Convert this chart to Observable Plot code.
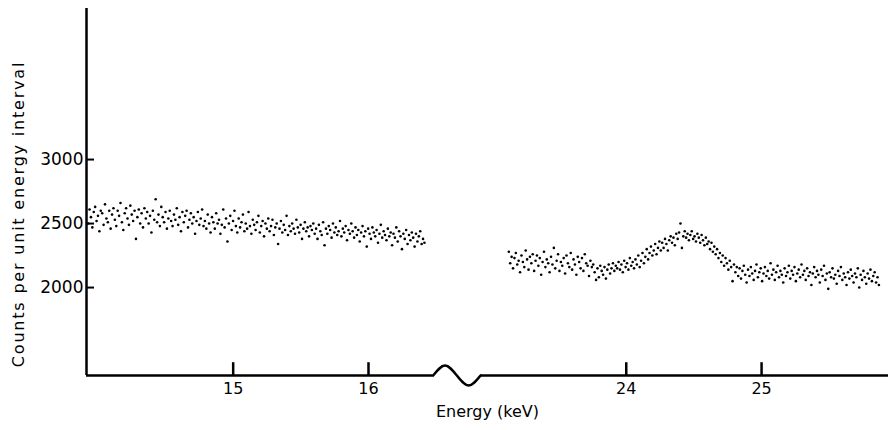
<!DOCTYPE html>
<html><head><meta charset="utf-8">
<script src="https://cdn.jsdelivr.net/npm/d3@7"></script>
<script src="https://cdn.jsdelivr.net/npm/@observablehq/plot@0.6"></script>
<style>body{margin:0;background:#fff} svg{display:block} .ylab text{letter-spacing:1.8px}</style>
</head><body><div id="chart"></div>
<script>
// Counts per channel, low-energy segment (≈13.93–16.41 keV)
const lowCounts = [
2500,2610,2550,2470,2590,2630,2520,2560,2440,2600,
2580,2490,2650,2540,2510,2600,2460,2570,2620,2530,
2480,2600,2560,2660,2510,2450,2580,2620,2540,2490,
2640,2570,2520,2600,2380,2550,2610,2500,2580,2470,
2620,2540,2590,2500,2560,2430,2600,2530,2690,2510,
2570,2480,2630,2550,2510,2590,2460,2540,2600,2520,
2480,2570,2530,2620,2490,2550,2440,2590,2510,2560,
2600,2470,2530,2580,2500,2550,2420,2520,2590,2490,
2540,2610,2480,2520,2460,2570,2500,2430,2550,2510,
2460,2580,2500,2530,2420,2490,2610,2470,2540,2360,
2500,2560,2450,2520,2600,2480,2430,2540,2470,2510,
2570,2440,2500,2460,2590,2480,2420,2530,2490,2450,
2510,2560,2430,2480,2520,2400,2500,2460,2540,2440,
2480,2530,2410,2470,2500,2340,2460,2520,2430,2490,
2450,2560,2410,2480,2440,2500,2460,2420,2530,2470,
2430,2490,2380,2460,2510,2440,2470,2400,2480,2450,
2500,2420,2460,2380,2490,2440,2410,2510,2330,2460,
2420,2480,2450,2390,2500,2430,2470,2410,2440,2520,
2400,2460,2430,2480,2370,2450,2420,2500,2440,2390,
2470,2410,2450,2360,2430,2480,2400,2440,2320,2460,
2420,2380,2470,2430,2400,2450,2350,2420,2490,2390,
2440,2410,2370,2460,2400,2430,2330,2420,2390,2470,
2360,2440,2400,2300,2420,2380,2450,2340,2410,2370,
2430,2390,2320,2420,2360,2400,2440,2340,2380,2350
];
// Counts per channel, high-energy segment (≈23.13–25.87 keV)
const highCounts = [
2280,2190,2240,2150,2230,2270,2180,2210,2120,2250,
2200,2160,2290,2220,2140,2240,2190,2260,2130,2210,
2250,2170,2230,2100,2200,2280,2160,2220,2190,2120,
2240,2180,2310,2150,2210,2260,2130,2200,2170,2230,
2110,2250,2190,2160,2270,2140,2220,2180,2100,2240,
2200,2150,2230,2130,2260,2190,2170,2090,2210,2160,
2180,2120,2060,2150,2080,2170,2130,2100,2160,2070,
2140,2180,2110,2150,2190,2130,2170,2150,2200,2140,
2180,2120,2210,2160,2190,2140,2230,2170,2200,2150,
2220,2180,2250,2160,2210,2270,2190,2240,2300,2220,
2270,2320,2250,2290,2340,2260,2310,2360,2290,2350,
2310,2380,2340,2290,2370,2400,2350,2390,2330,2420,
2380,2430,2500,2310,2400,2440,2390,2420,2370,2410,
2440,2380,2400,2360,2420,2390,2350,2410,2370,2330,
2390,2340,2360,2300,2350,2280,2320,2260,2300,2230,
2270,2200,2250,2170,2230,2190,2140,2210,2160,2050,
2180,2120,2160,2090,2150,2070,2130,2170,2100,2040,
2140,2090,2160,2110,2060,2130,2180,2080,2120,2150,
2050,2110,2160,2090,2130,2070,2190,2100,2140,2060,
2120,2170,2080,2130,2100,2040,2150,2090,2120,2170,
2070,2130,2100,2160,2050,2110,2140,2080,2180,2100,
2130,2060,2150,2090,2120,2020,2110,2160,2080,2130,
2100,2040,2140,2090,2170,2060,2110,1990,2120,2080,
2150,2070,2100,2030,2130,2090,2160,2060,2110,2080,
2020,2120,2070,2140,2090,2040,2110,2080,2150,2000,
2100,2060,2130,2080,2030,2110,2070,2140,2050,2090,
2120,2040,2080,2020
];
const lowStartKeV = 13.928;
const highStartKeV = 23.132;
const channelKeV = 0.0104;
const xTicks = [15, 16, 24, 25];
const yTicks = [2000, 2500, 3000];
const xLabel = "Energy (keV)";
const yLabel = "Counts per unit energy interval";
// broken energy axis
const axisStartKeV = 13.916;   // left end of axis
const breakStartKeV = 16.478;  // axis interrupted here ...
const breakEndKeV = 22.923;    // ... and resumes here
const axisEndKeV = 25.938;     // right end of axis
const yDomain = [1313, 4180];

// position along the broken axis (the gap between segments is omitted)
const shift = breakEndKeV - breakStartKeV - 0.35;
const toAxis = e => (e >= breakEndKeV ? e - shift : e);
const fromAxis = u => (u > breakStartKeV + 0.01 ? u + shift : u);

const points = [
  ...lowCounts.map((c, i) => ({e: lowStartKeV + i * channelKeV, c})),
  ...highCounts.map((c, i) => ({e: highStartKeV + i * channelKeV, c}))
];
const xTickPos = xTicks.map(toAxis);
// inward tick marks on the energy axis
const tickRows = xTicks.map(e => ({u: toAxis(e), lo: yDomain[0], hi: yDomain[0] + 100}));

// break symbol on the x axis (one wave between the two segments)
const bs = breakStartKeV, be = breakEndKeV - shift, amp = 78;
const wave = [0, 0.25, 0.5, 0.75, 1].map((t, i) => ({
  x: bs + t * (be - bs),
  y: yDomain[0] + [0, amp, 0, -amp, 0][i]
}));

const W = 891, H = 430;
const plot = Plot.plot({
  width: W, height: H,
  marginLeft: 86, marginRight: 3, marginTop: 8, marginBottom: 55,
  style: {fontFamily: "DejaVu Sans", fontSize: "16px", color: "black", background: "white"},
  x: {domain: [toAxis(axisStartKeV), toAxis(axisEndKeV)]},
  y: {domain: yDomain},
  marks: [
    Plot.dot(points, {x: d => toAxis(d.e), y: "c", r: 1.3, fill: "black", stroke: "none"}),
    Plot.ruleX([toAxis(axisStartKeV)], {stroke: "black", strokeWidth: 2.5}),
    Plot.ruleY([yDomain[0]], {x1: toAxis(axisStartKeV), x2: bs, stroke: "black", strokeWidth: 2.5}),
    Plot.ruleY([yDomain[0]], {x1: be, x2: toAxis(axisEndKeV), stroke: "black", strokeWidth: 2.5}),
    Plot.line(wave, {x: "x", y: "y", curve: "natural", stroke: "black", strokeWidth: 2.5}),
    Plot.tickY(yTicks, {y: d => d, insetRight: W - 3 - 86 - 8, stroke: "black", strokeWidth: 2}),
    Plot.axisY(yTicks, {tickSize: 0, tickPadding: 3, fontSize: 17, tickFormat: d => String(d), label: null}),
    Plot.axisX(xTickPos, {tickSize: 0, tickPadding: 7, fontSize: 16, tickFormat: u => String(Math.round(fromAxis(u))), label: null}),
    Plot.text([xLabel], {frameAnchor: "bottom", dy: 36, fontSize: 16, lineAnchor: "middle"}),
    Plot.text([yLabel], {frameAnchor: "left", dx: -68, dy: 22, rotate: -90, fontSize: 16, textAnchor: "middle", lineAnchor: "middle", className: "ylab"}),
    Plot.ruleX(tickRows, {x: "u", y1: "lo", y2: "hi", stroke: "black", strokeWidth: 2.5})
  ]
});
document.getElementById("chart").appendChild(plot);
</script>
</body></html>
